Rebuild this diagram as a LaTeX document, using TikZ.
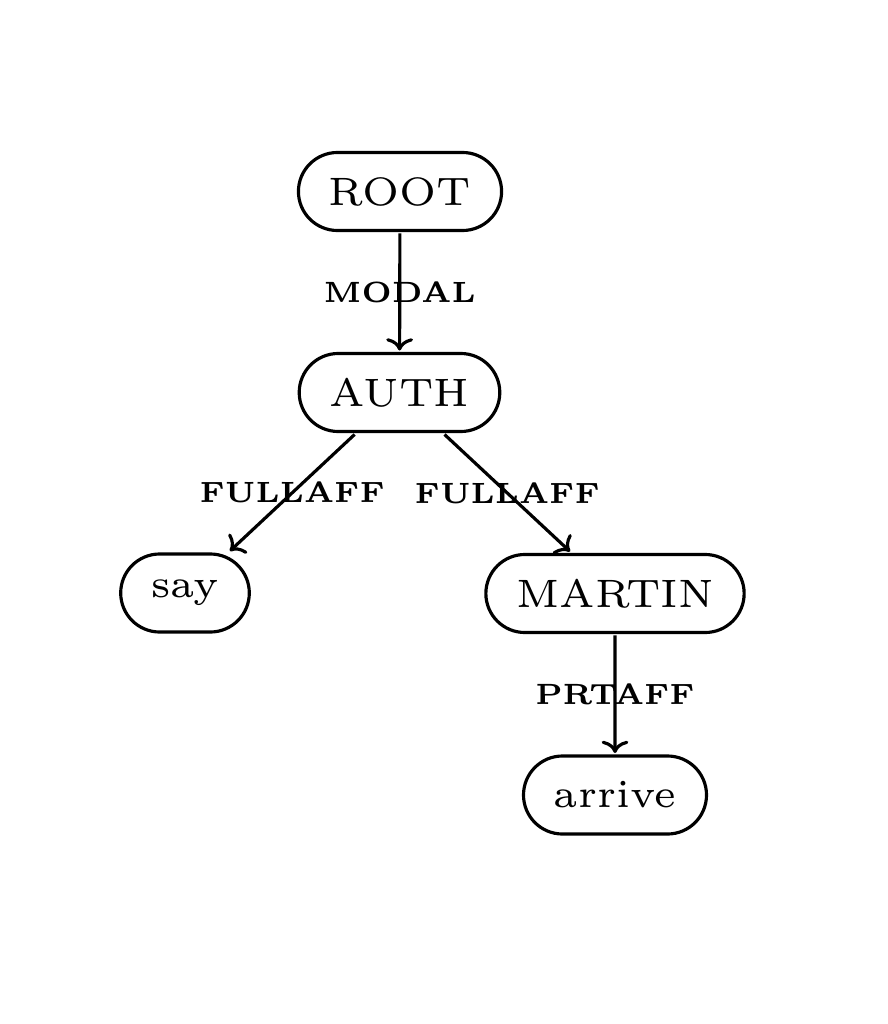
\documentclass[tikz,border=0pt]{standalone}
\usetikzlibrary{positioning,arrows.meta}

\begin{document}
\begin{tikzpicture}[x=0.1mm,y=-0.1mm,->,>={To[width=7.6pt,length=3.5pt]},line width=0.9pt,
	tok/.style={draw,rectangle,rounded corners=3.9mm,minimum height=4.15mm,inner xsep=4.6pt,scale=1.88,font=\fontsize{6}{7}\selectfont},
	lab/.style={scale=1.39,font=\fontsize{6}{7}\selectfont\bfseries}]
	\useasboundingbox (0,0) rectangle (887,1024);
	\node[tok]	(root)		at	(400,191.5)	{ROOT};
	\node[tok]	(auth)		at	(399.5,392.5)	{AUTH};
	\node[tok]	(say)		at	(185,593)	{say};
	\node[tok]	(martin)	at	(615,593.5)	{MARTIN};
	\node[tok]	(arrive)	at	(615,795)	{arrive};

	\path	(root)		edge	node[lab]	{MODAL}		(auth);
	\path	(auth)		edge	node[lab]	{FULLAFF}	(say);
	\path	(auth)		edge	node[lab]	{FULLAFF}	(martin);
	\path	(martin)	edge	node[lab]	{PRTAFF}	(arrive);
\end{tikzpicture}
\end{document}
